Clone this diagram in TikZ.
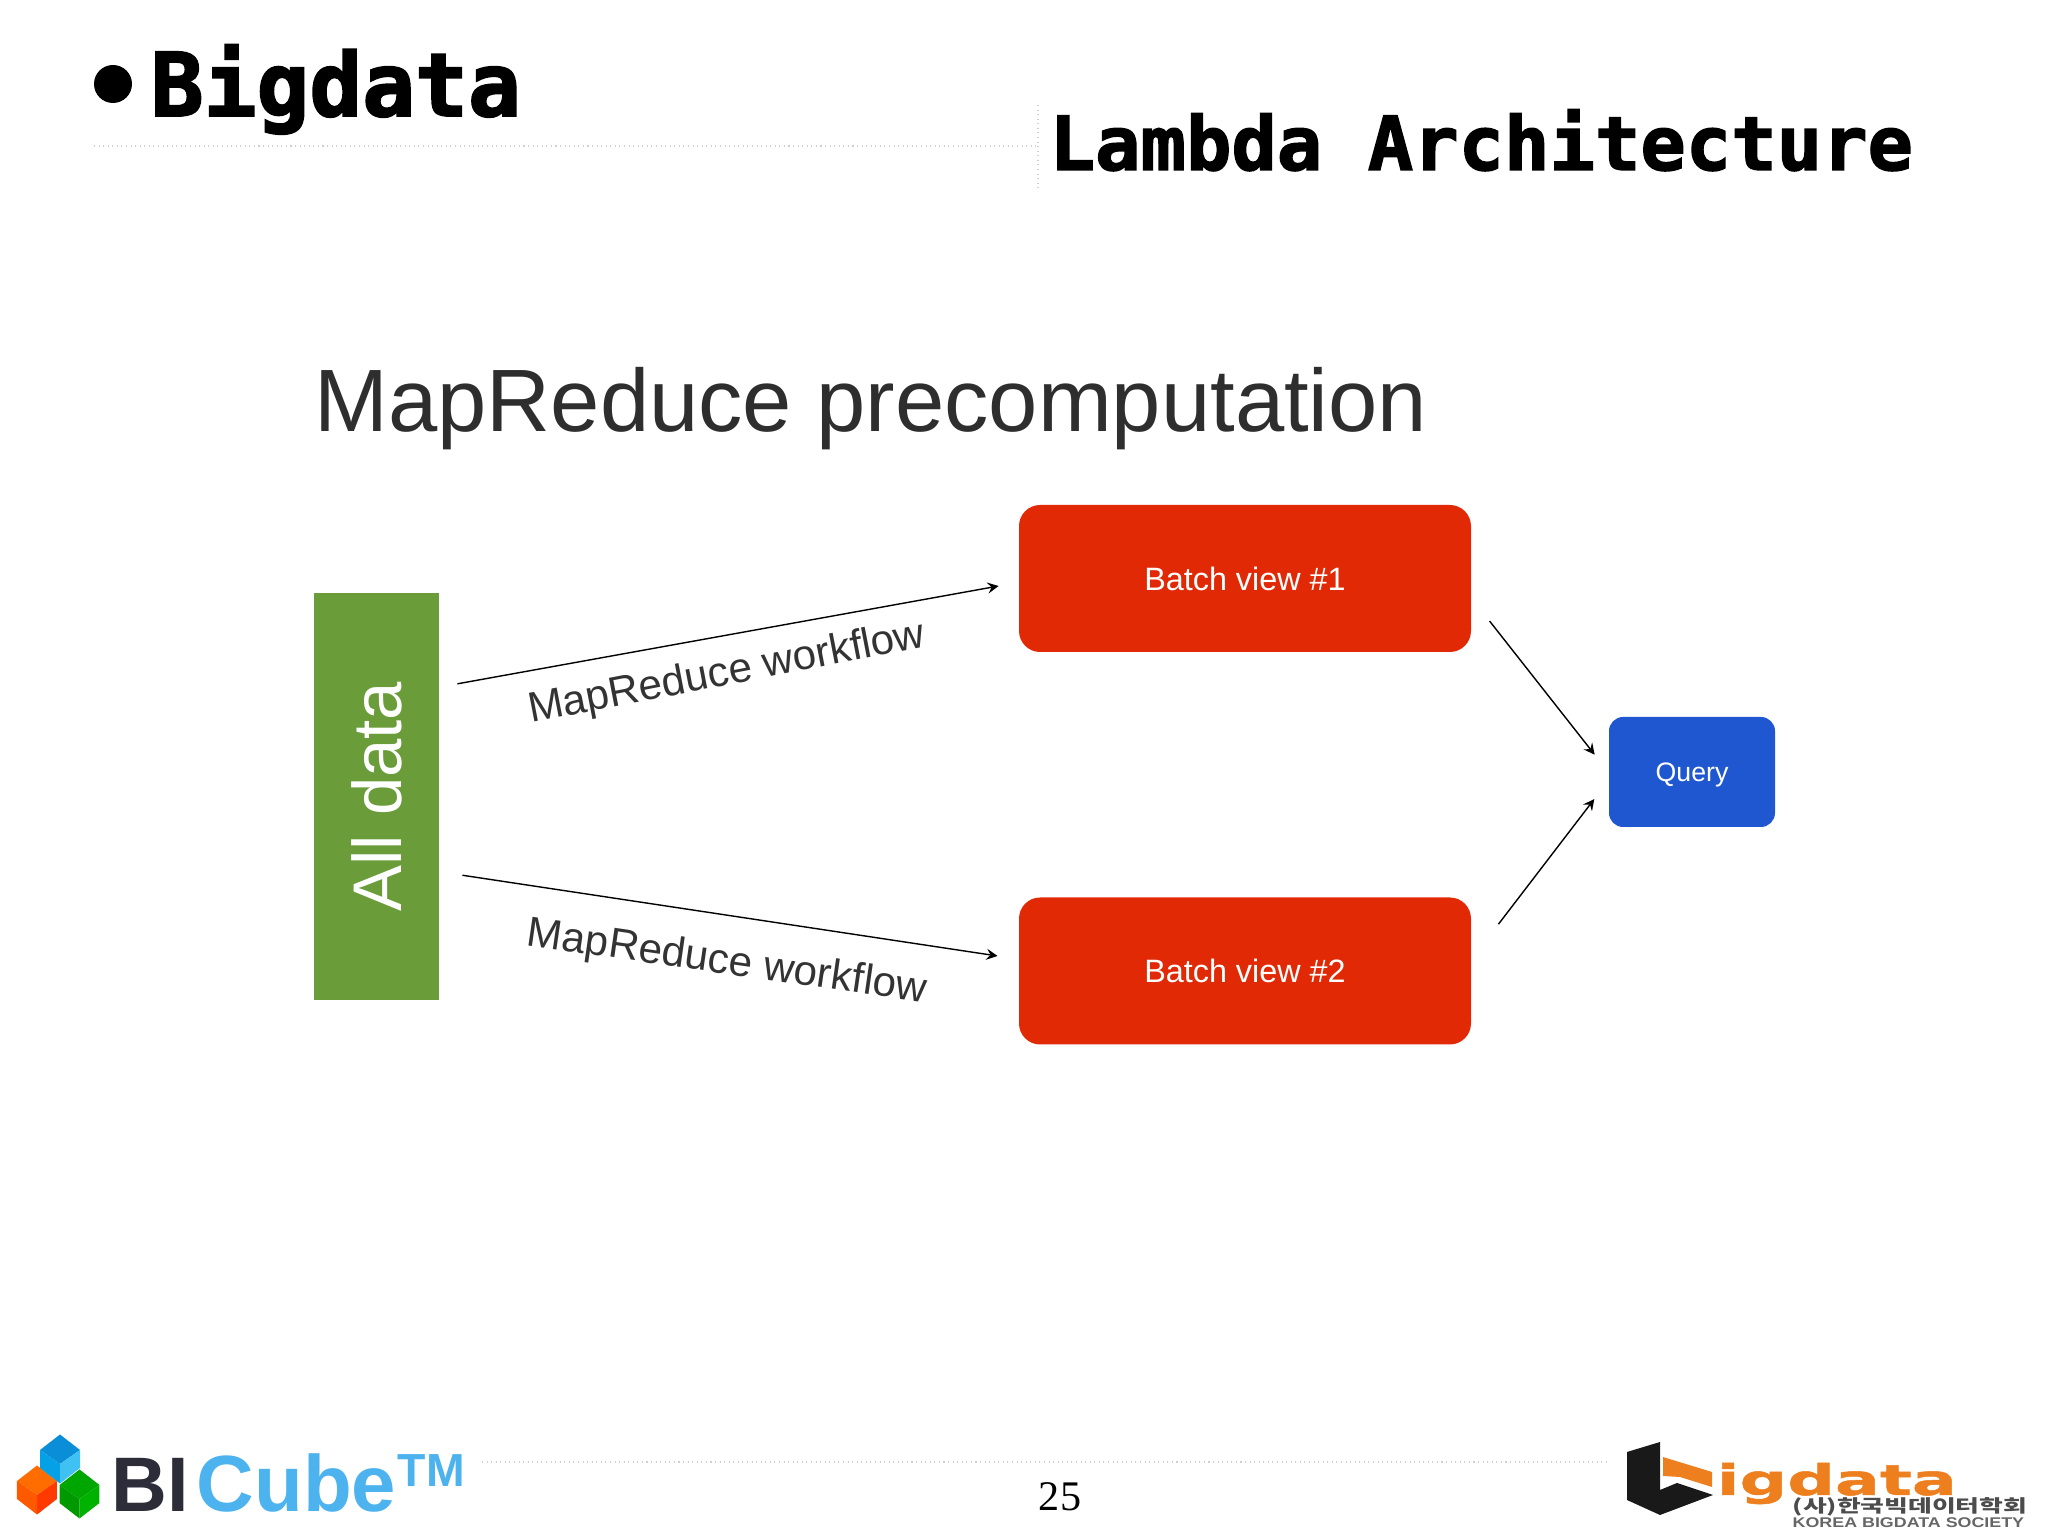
\documentclass[tikz,border=0pt]{standalone}
\usepackage{fontspec}
\setmainfont{Liberation Sans}
\newfontfamily\bigdatafont[FakeBold=2.2]{DejaVu Sans Mono}
\newfontfamily\lambdafont[FakeStretch=1.013,FakeBold=2]{DejaVu Sans Mono}
\newfontfamily\pagefont{Liberation Serif}
\newfontfamily\igdatafont[FakeStretch=1.58,FakeBold=1.2]{DejaVu Sans}
\newfontfamily\koreanfont[FakeStretch=1.47]{Noto Sans CJK KR}
\newfontfamily\societyfont[FakeStretch=1.27]{Liberation Sans}
\definecolor{batchred}{HTML}{E12A05}
\definecolor{datagreen}{HTML}{6A9C3A}
\definecolor{queryblue}{HTML}{1F57D0}
\definecolor{rulegray}{HTML}{CFCFCF}
\definecolor{cubeblue}{HTML}{4DB3EE}
\definecolor{bidark}{HTML}{2D2D3A}
\definecolor{logoorange}{HTML}{EE7F1E}
\tikzset{
  boxnode/.style={text=white,align=center,inner sep=0pt},
  batchnode/.style={boxnode,fill=batchred,rounded corners=6pt,minimum width=4.52cm,minimum height=1.47cm,font=\fontsize{9.2}{11}\selectfont},
  textnode/.style={inner sep=0pt,anchor=base west},
  flowlabel/.style={inner sep=0pt,text=black!80,font=\fontsize{12}{14}\selectfont},
  rulenode/.style={rulegray,densely dotted,line width=0.3pt}
}
\newcommand{\logocube}[5]{%
  \fill[#3] (#1,#2+0.245) -- (#1+0.2,#2+0.09) -- (#1,#2-0.05) -- (#1-0.2,#2+0.09) -- cycle;
  \fill[#4] (#1-0.2,#2+0.09) -- (#1,#2-0.05) -- (#1,#2-0.245) -- (#1-0.2,#2-0.09) -- cycle;
  \fill[#5] (#1+0.2,#2+0.09) -- (#1,#2-0.05) -- (#1,#2-0.245) -- (#1+0.2,#2-0.09) -- cycle;
}
\begin{document}
\begin{tikzpicture}[>=stealth]
  \useasboundingbox (0,0) rectangle (20.48,15.35);
  % Header
  \node[circle,fill=black,inner sep=0pt,minimum size=0.38cm] (bullet) at (1.13,14.51) {};
  \node[textnode] (bigdata) at (1.5,14.19) {\fontsize{25}{27}\selectfont\bigdatafont\bfseries Bigdata};
  \node[textnode] (lambda) at (10.49,13.65) {\fontsize{21.2}{23}\selectfont\lambdafont\bfseries Lambda Architecture};
  \draw[rulenode] (0.94,13.89) -- (10.38,13.89);
  \draw[rulenode] (10.38,14.3) -- (10.38,13.45);
  % Diagram
  \node[textnode,text=black!82] (precomp) at (3.14,11.03) {\fontsize{25.2}{27}\selectfont MapReduce precomputation};
  \node[boxnode,fill=datagreen,minimum width=1.25cm,minimum height=4.07cm,font=\fontsize{19.6}{21}\selectfont] (alldata) at (3.765,7.385) {\rotatebox{90}{All data}};
  \node[batchnode] (batch1) at (12.45,9.565) {Batch view \#1};
  \node[batchnode] (batch2) at (12.45,5.64) {Batch view \#2};
  \node[boxnode,fill=queryblue,rounded corners=4pt,minimum width=1.66cm,minimum height=1.1cm,text depth=0pt,font=\fontsize{7.6}{9}\selectfont] (query) at (16.92,7.63) {Query};
  % Arrows
  \draw[->,shorten <=0.18cm,shorten >=0.2cm] (alldata.60) -- (batch1.181);
  \draw[->,shorten <=0.23cm,shorten >=0.21cm] (alldata.-50) -- (batch2.177);
  \draw[->,shorten <=0.29cm,shorten >=0.22cm] (batch1.-5) -- (query.west);
  \draw[->,shorten <=0.44cm,shorten >=0.23cm] (batch2.3) -- (query.186);
  % Labels
  \node[flowlabel,rotate=10.9] (flow1) at (7.27,8.61) {MapReduce workflow};
  \node[flowlabel,rotate=-8.2] (flow2) at (7.27,5.72) {MapReduce workflow};
  % Footer
  \draw[rulenode] (4.82,0.73) -- (16.1,0.73);
  \node[inner sep=0pt] (pagenum) at (10.6,0.38) {\fontsize{12}{14}\selectfont\pagefont 25};
  % BICube logo
  \logocube{0.37}{0.45}{orange!85!red}{orange!70!red}{orange!45!red}
  \logocube{0.795}{0.41}{green!65!black}{green!60!black}{green!70!black}
  \logocube{0.6}{0.76}{cyan!75!blue}{cyan!90!blue}{cyan!75!white}
  \node[textnode,text=bidark] (bi) at (1.11,0.23) {\fontsize{22}{24}\selectfont\bfseries BI};
  \node[textnode,text=cubeblue] (cube) at (1.96,0.23) {\fontsize{22.7}{24}\selectfont\bfseries Cube};
  \node[textnode,text=cubeblue] (tm) at (3.97,0.48) {\fontsize{13.2}{15}\selectfont\bfseries TM};
  % Bigdata logo
  \fill[black!90] (16.27,0.83) -- (16.6,0.93) -- (16.6,0.45) -- (16.77,0.52) -- (17.13,0.4) -- (16.6,0.2) -- (16.27,0.35) -- cycle;
  \fill[logoorange] (16.63,0.78) -- (17.12,0.63) -- (17.12,0.48) -- (16.8,0.58) -- (16.63,0.59) -- cycle;
  \node[textnode,text=logoorange] (igdata) at (17.16,0.4) {\fontsize{12}{14}\selectfont\igdatafont\bfseries igdata};
  \node[textnode,text=black!70] (korean) at (17.92,0.22) {\fontsize{5}{6}\selectfont\koreanfont\bfseries (사)한국빅데이터학회};
  \node[textnode,text=black!60] (society) at (17.92,0.07) {\fontsize{4}{5}\selectfont\societyfont\bfseries KOREA BIGDATA SOCIETY};
\end{tikzpicture}
\end{document}
